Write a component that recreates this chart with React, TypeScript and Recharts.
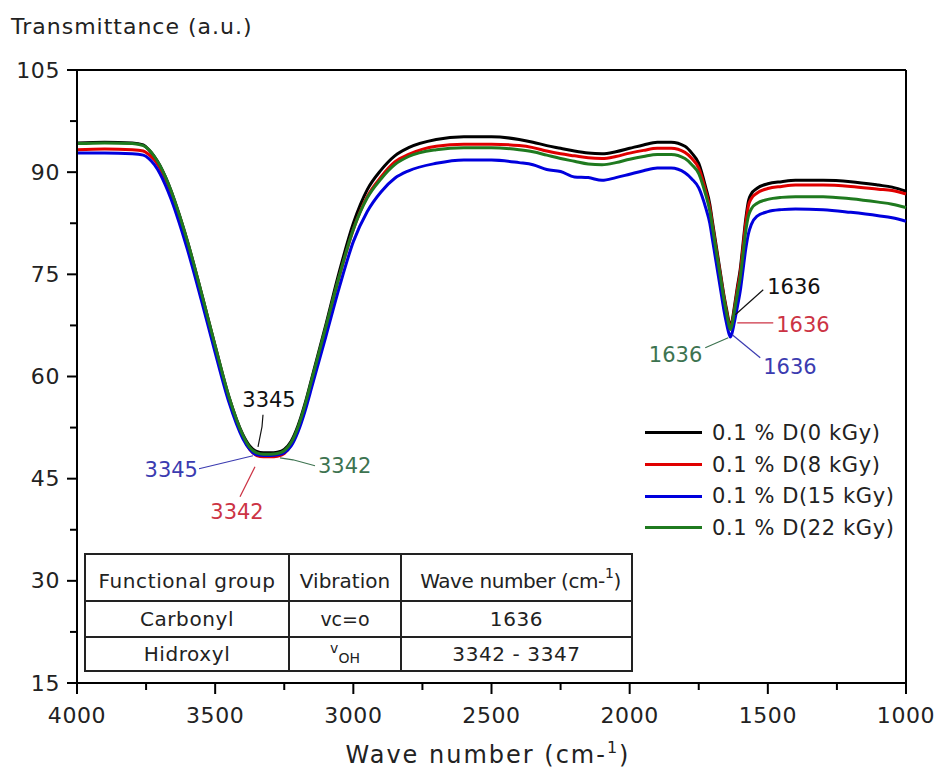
import React from 'react'
import { LineChart, Line, XAxis, YAxis, ReferenceLine, ReferenceDot, Legend } from 'recharts'

// wave number grid (cm-1), shared by all four spectra
const WAVENUMBERS = [
  4000, 3900, 3800, 3760, 3740, 3720, 3700, 3680, 3660, 3640, 3600, 3550, 3500, 3450, 3400,
  3375, 3350, 3325, 3300, 3275, 3250, 3225, 3200, 3175, 3150, 3100, 3050, 3000, 2950, 2900,
  2850, 2800, 2700, 2600, 2500, 2400, 2350, 2300, 2250, 2200, 2150, 2100, 2050, 2000, 1950,
  1900, 1850, 1800, 1775, 1750, 1725, 1710, 1700, 1690, 1680, 1670, 1660, 1650, 1640, 1636,
  1630, 1620, 1610, 1600, 1590, 1580, 1570, 1560, 1540, 1500, 1450, 1400, 1300, 1200, 1100,
  1050, 1000,
]

const D0 = [
  94.3, 94.4, 94.3, 94.0, 93.3, 92.3, 91.0, 89.3, 87.3, 85.0, 79.8, 72.3, 64.5, 57.0, 51.5,
  49.8, 49.0, 48.8, 48.8, 48.9, 49.3, 50.5, 52.8, 56.0, 59.8, 67.5, 75.5, 82.5, 87.4, 90.3,
  92.4, 93.6, 94.8, 95.2, 95.2, 94.8, 94.4, 93.9, 93.5, 93.1, 92.8, 92.7, 93.0, 93.5, 94.0,
  94.4, 94.4, 93.8, 92.8, 91.3, 87.8, 85.3, 82.6, 80.0, 77.4, 74.8, 72.2, 70.0, 67.9, 67.3,
  68.0, 70.5, 73.2, 75.7, 79.4, 83.1, 85.8, 86.8, 87.6, 88.3, 88.6, 88.8, 88.8, 88.6, 88.1,
  87.8, 87.2,
]

const D8 = [
  93.3, 93.4, 93.3, 93.1, 92.6, 91.8, 90.6, 89.0, 87.1, 84.8, 79.6, 72.1, 64.3, 56.8, 51.2,
  49.3, 48.4, 48.2, 48.2, 48.3, 48.7, 50.0, 52.3, 55.5, 59.3, 67.0, 74.8, 81.6, 86.4, 89.3,
  91.5, 92.6, 93.8, 94.1, 94.1, 93.9, 93.6, 93.1, 92.7, 92.4, 92.1, 92.0, 92.3, 92.8, 93.2,
  93.5, 93.5, 92.9, 92.0, 90.6, 87.3, 84.8, 82.2, 79.6, 77.0, 74.5, 71.9, 69.7, 67.6, 67.0,
  67.7, 70.1, 72.8, 75.2, 78.8, 82.5, 85.1, 86.1, 86.9, 87.6, 87.9, 88.1, 88.1, 87.9, 87.5,
  87.3, 86.8,
]

const D15 = [
  92.8, 92.8, 92.7, 92.5, 92.0, 91.1, 89.8, 88.1, 86.1, 83.8, 78.6, 71.2, 63.5, 56.2, 50.9,
  49.3, 48.5, 48.4, 48.4, 48.5, 48.8, 49.8, 51.9, 54.9, 58.5, 65.8, 73.2, 79.8, 84.2, 87.1,
  89.1, 90.2, 91.3, 91.8, 91.8, 91.4, 91.1, 90.4, 90.1, 89.3, 89.2, 88.8, 89.2, 89.7, 90.2,
  90.6, 90.6, 89.9, 89.0, 87.7, 84.8, 82.5, 80.0, 77.5, 75.0, 72.5, 70.0, 67.9, 66.2, 65.8,
  66.3, 68.2, 70.3, 72.5, 75.6, 78.7, 81.0, 82.3, 83.5, 84.2, 84.5, 84.6, 84.5, 84.1, 83.6,
  83.3, 82.8,
]

const D22 = [
  94.2, 94.3, 94.2, 93.9, 93.3, 92.3, 91.0, 89.3, 87.3, 85.0, 79.8, 72.3, 64.5, 57.0, 51.4,
  49.6, 48.8, 48.6, 48.6, 48.7, 49.1, 50.3, 52.6, 55.8, 59.6, 67.2, 74.9, 81.6, 86.2, 89.0,
  91.1, 92.3, 93.3, 93.6, 93.6, 93.3, 93.0, 92.5, 92.0, 91.6, 91.2, 91.1, 91.4, 91.9, 92.3,
  92.6, 92.6, 92.0, 91.1, 89.8, 86.7, 84.3, 81.8, 79.2, 76.7, 74.2, 71.6, 69.4, 67.4, 66.9,
  67.5, 69.8, 72.2, 74.5, 77.9, 81.3, 83.6, 84.6, 85.4, 86.0, 86.3, 86.4, 86.4, 86.1, 85.6,
  85.3, 84.8,
]

const SERIES = [
  { key: 'd0', name: '0.1 % D(0 kGy)', color: '#000000' },
  { key: 'd8', name: '0.1 % D(8 kGy)', color: '#e00000' },
  { key: 'd15', name: '0.1 % D(15 kGy)', color: '#0000dd' },
  { key: 'd22', name: '0.1 % D(22 kGy)', color: '#1f7a1f' },
]

const X_MAJOR = [4000, 3500, 3000, 2500, 2000, 1500, 1000]
const X_MINOR = [3750, 3250, 2750, 2250, 1750, 1250]
const Y_MAJOR = [15, 30, 45, 60, 75, 90, 105]
const Y_MINOR = [22.5, 37.5, 52.5, 67.5, 82.5, 97.5]

// peak callouts: [wave number, transmittance] of the marked minimum
const OH_PEAK = [3345, 48.8]
const CO_PEAK = [1636, 67.3]

const OH_CALLOUTS = [
  { text: '3345', color: '#111111', pts: [[5, -38], [4, -26], [0, -6]], tx: 11, ty: -53, anchor: 'middle' },
  { text: '3345', color: '#3b3bb0', pts: [[-59, 16], [-5, 3]], tx: -60, ty: 17, anchor: 'end' },
  { text: '3342', color: '#3d7350', pts: [[22, 5], [35, 7], [57, 13]], tx: 60, ty: 13, anchor: 'start' },
  { text: '3342', color: '#cc3344', pts: [[-3, 14], [-18, 44]], tx: -21, ty: 59, anchor: 'middle' },
]

const CO_CALLOUTS = [
  { text: '1636', color: '#111111', pts: [[5, -12], [33, -37]], tx: 37, ty: -40, anchor: 'start' },
  { text: '1636', color: '#cc3344', pts: [[7, -4], [43, -4]], tx: 46, ty: -2, anchor: 'start' },
  { text: '1636', color: '#3b3bb0', pts: [[2, 8], [30, 31]], tx: 33, ty: 40, anchor: 'start' },
  { text: '1636', color: '#3d7350', pts: [[-2, 11], [-25, 21]], tx: -28, ty: 28, anchor: 'end' },
]

const FONT = '"DejaVu Sans", Verdana, sans-serif'

const data = WAVENUMBERS.map((wn, i) => ({
  wn,
  d0: D0[i],
  d8: D8[i],
  d15: D15[i],
  d22: D22[i],
}))

const XTick = (props: any) => {
  const { x, y, payload } = props
  const major = X_MAJOR.includes(payload.value)
  return (
    <g>
      <line x1={x} y1={y} x2={x} y2={y + (major ? 11 : 7)} stroke="#000" strokeWidth={2} />
      {major && (
        <text x={x} y={y + 40} textAnchor="middle" fontSize={22} letterSpacing={0.6} fill="#222" fontFamily={FONT}>
          {payload.value}
        </text>
      )}
    </g>
  )
}

const YTick = (props: any) => {
  const { x, y, payload } = props
  const major = Y_MAJOR.includes(payload.value)
  return (
    <g>
      <line x1={x - (major ? 10 : 7)} y1={y} x2={x} y2={y} stroke="#000" strokeWidth={2} />
      {major && (
        <text x={x - 17} y={y} textAnchor="end" dominantBaseline="central" fontSize={22} letterSpacing={0.6} fill="#222" fontFamily={FONT}>
          {payload.value}
        </text>
      )}
    </g>
  )
}

const Callouts = ({ cx, cy, items }: any) => (
  <g>
    {items.map((c: any, i: number) => (
      <g key={i}>
        <polyline
          points={c.pts.map((p: number[]) => `${cx + p[0]},${cy + p[1]}`).join(' ')}
          fill="none"
          stroke={c.color}
          strokeWidth={1.2}
        />
        <text
          x={cx + c.tx}
          y={cy + c.ty}
          textAnchor={c.anchor}
          dominantBaseline="central"
          fontSize={21}
          fill={c.color}
          fontFamily={FONT}
        >
          {c.text}
        </text>
      </g>
    ))}
  </g>
)

const renderLegend = () => (
  <div style={{ fontFamily: FONT }}>
    {SERIES.map((s) => (
      <div key={s.key} style={{ display: 'flex', alignItems: 'center', height: 31.7 }}>
        <div style={{ width: 57, height: 3, background: s.color, marginRight: 10 }} />
        <span style={{ fontSize: 21, letterSpacing: 0.6, color: '#222', whiteSpace: 'nowrap' }}>{s.name}</span>
      </div>
    ))}
  </div>
)

const COLS = [85, 289, 401, 632]
const ROWS = [554, 601, 637, 671]

const PeakTable = () => {
  const mid = (a: number[], i: number) => (a[i] + a[i + 1]) / 2
  const cell = { textAnchor: 'middle' as const, dominantBaseline: 'central' as const, fill: '#222', fontFamily: FONT }
  return (
    <svg width={938} height={771} style={{ position: 'absolute', left: 0, top: 0, pointerEvents: 'none' }}>
      <rect x={COLS[0]} y={ROWS[0]} width={COLS[3] - COLS[0]} height={ROWS[3] - ROWS[0]} fill="#fff" stroke="#222" strokeWidth={2} />
      {ROWS.slice(1, 3).map((r) => (
        <line key={r} x1={COLS[0]} x2={COLS[3]} y1={r} y2={r} stroke="#222" strokeWidth={2} />
      ))}
      {COLS.slice(1, 3).map((c) => (
        <line key={c} x1={c} x2={c} y1={ROWS[0]} y2={ROWS[3]} stroke="#222" strokeWidth={2} />
      ))}
      <text {...cell} x={mid(COLS, 0)} y={mid(ROWS, 0) + 3} fontSize={20} letterSpacing={0.6}>Functional group</text>
      <text {...cell} x={mid(COLS, 1)} y={mid(ROWS, 0) + 3} fontSize={20}>Vibration</text>
      <text {...cell} x={mid(COLS, 2) + 4} y={mid(ROWS, 0) + 3} fontSize={20} letterSpacing={-0.4}>
        Wave number (cm-<tspan fontSize={14} dy={-8}>1</tspan><tspan dy={8}>)</tspan>
      </text>
      <text {...cell} x={mid(COLS, 0)} y={mid(ROWS, 1)} fontSize={20} letterSpacing={0.6}>Carbonyl</text>
      <text {...cell} x={mid(COLS, 1)} y={mid(ROWS, 1)} fontSize={19}>vc=o</text>
      <text {...cell} x={mid(COLS, 2)} y={mid(ROWS, 1)} fontSize={20} letterSpacing={0.6}>1636</text>
      <text {...cell} x={mid(COLS, 0)} y={mid(ROWS, 2)} fontSize={20} letterSpacing={0.6}>Hidroxyl</text>
      <text {...cell} x={mid(COLS, 1)} y={mid(ROWS, 2)} fontSize={14}>
        <tspan dy={-6}>v</tspan><tspan dy={10}>OH</tspan>
      </text>
      <text {...cell} x={mid(COLS, 2)} y={mid(ROWS, 2)} fontSize={20} letterSpacing={0.6}>3342 - 3347</text>

      <text x={11} y={34} fontSize={22} letterSpacing={1} fill="#222" fontFamily={FONT}>Transmittance (a.u.)</text>
      <text x={488} y={763} textAnchor="middle" fontSize={24} letterSpacing={2} fill="#222" fontFamily={FONT}>
        Wave number (cm-<tspan fontSize={16} dy={-10}>1</tspan><tspan dy={10}>)</tspan>
      </text>
    </svg>
  )
}

export default function App() {
  return (
    <div style={{ position: 'absolute', left: 0, top: 0, width: 938, height: 771, background: '#fff', fontFamily: FONT }}>
      <LineChart width={938} height={771} data={data} margin={{ top: 70, right: 32, left: 17, bottom: 58 }}>
        <XAxis
          dataKey="wn"
          type="number"
          domain={[1000, 4000]}
          reversed
          ticks={[...X_MAJOR, ...X_MINOR]}
          tick={<XTick />}
          tickLine={false}
          tickSize={0}
          tickMargin={0}
          height={30}
          axisLine={{ stroke: '#000', strokeWidth: 2 }}
          interval={0}
        />
        <YAxis
          type="number"
          domain={[15, 105]}
          ticks={[...Y_MAJOR, ...Y_MINOR]}
          tick={<YTick />}
          tickLine={false}
          tickSize={0}
          tickMargin={0}
          width={60}
          axisLine={{ stroke: '#000', strokeWidth: 2 }}
          interval={0}
        />
        <ReferenceLine y={105} stroke="#000" strokeWidth={2} />
        <ReferenceLine x={1000} stroke="#000" strokeWidth={2} />
        {SERIES.map((s) => (
          <Line
            key={s.key}
            dataKey={s.key}
            name={s.name}
            type="monotone"
            stroke={s.color}
            strokeWidth={3}
            dot={false}
            isAnimationActive={false}
          />
        ))}
        <ReferenceDot
          x={OH_PEAK[0]}
          y={OH_PEAK[1]}
          r={0}
          shape={(p: any) => <Callouts cx={p.cx} cy={p.cy} items={OH_CALLOUTS} />}
        />
        <ReferenceDot
          x={CO_PEAK[0]}
          y={CO_PEAK[1]}
          r={0}
          shape={(p: any) => <Callouts cx={p.cx} cy={p.cy} items={CO_CALLOUTS} />}
        />
        <Legend
          layout="horizontal"
          verticalAlign="middle"
          align="center"
          content={renderLegend}
          wrapperStyle={{ position: 'absolute', left: 645, top: 417, width: 270 }}
        />
      </LineChart>
      <PeakTable />
    </div>
  )
}
